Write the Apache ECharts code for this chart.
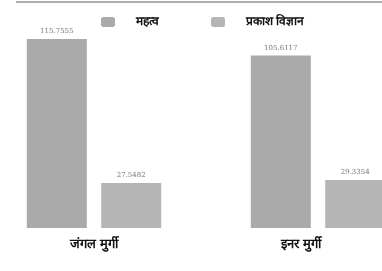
<!DOCTYPE html>
<html>
<head>
<meta charset="utf-8">
<script src="https://cdn.jsdelivr.net/npm/echarts@6/dist/echarts.min.js"></script>
<style>
  html, body { margin: 0; padding: 0; background: #fff; }
  #chart { width: 382px; height: 271px; }
</style>
</head>
<body>
<div id="chart"></div>
<script>
// categories and series
const categories = ['जंगल मुर्गी', 'इनर मुर्गी']
const seriesNames = ['महत्व', 'प्रकाश विज्ञान']
const valuesA = [115.7555, 105.6117]
const valuesB = [27.5482, 29.3354]

const chart = echarts.init(document.getElementById('chart'), null, { renderer: 'canvas' })

const labelStyle = {
  show: true,
  position: 'top',
  distance: 4,
  fontSize: 7,
  color: '#777',
  fontFamily: 'DejaVu Serif'
}

// second category label sits a bit left of its bars in the original
const catData = categories.map((c, i) => i === 1
  ? { value: c, textStyle: { padding: [0, 34, 0, 0] } }
  : c)

chart.setOption({
  animation: false,
  backgroundColor: '#fff',
  graphic: [{
    type: 'line',
    shape: { x1: 16, y1: 2, x2: 382, y2: 2 },
    style: { stroke: '#b0b0b0', lineWidth: 2 }
  }],
  legend: {
    top: 11,
    left: 96,
    itemWidth: 14,
    itemHeight: 10,
    itemGap: 52,
    textStyle: { fontSize: 12, fontWeight: 'bold', color: '#111', padding: [0, 0, 0, 16] },
    data: seriesNames
  },
  grid: { left: -18, width: 448, top: 32, bottom: 43, outerBoundsMode: 'none' },
  xAxis: {
    type: 'category',
    data: catData,
    axisLine: { show: false },
    axisTick: { show: false },
    axisLabel: { fontSize: 13, fontWeight: 'bold', color: '#111', margin: 10 }
  },
  yAxis: {
    type: 'value',
    min: 0,
    max: 120,
    show: false,
    splitLine: { show: false }
  },
  series: [
    {
      name: seriesNames[0],
      type: 'bar',
      data: valuesA,
      barWidth: 60,
      barGap: '24%',
      itemStyle: { color: '#aaaaaa' },
      label: labelStyle
    },
    {
      name: seriesNames[1],
      type: 'bar',
      data: valuesB,
      barWidth: 60,
      itemStyle: { color: '#b5b5b5' },
      label: labelStyle
    }
  ]
})
</script>
</body>
</html>
